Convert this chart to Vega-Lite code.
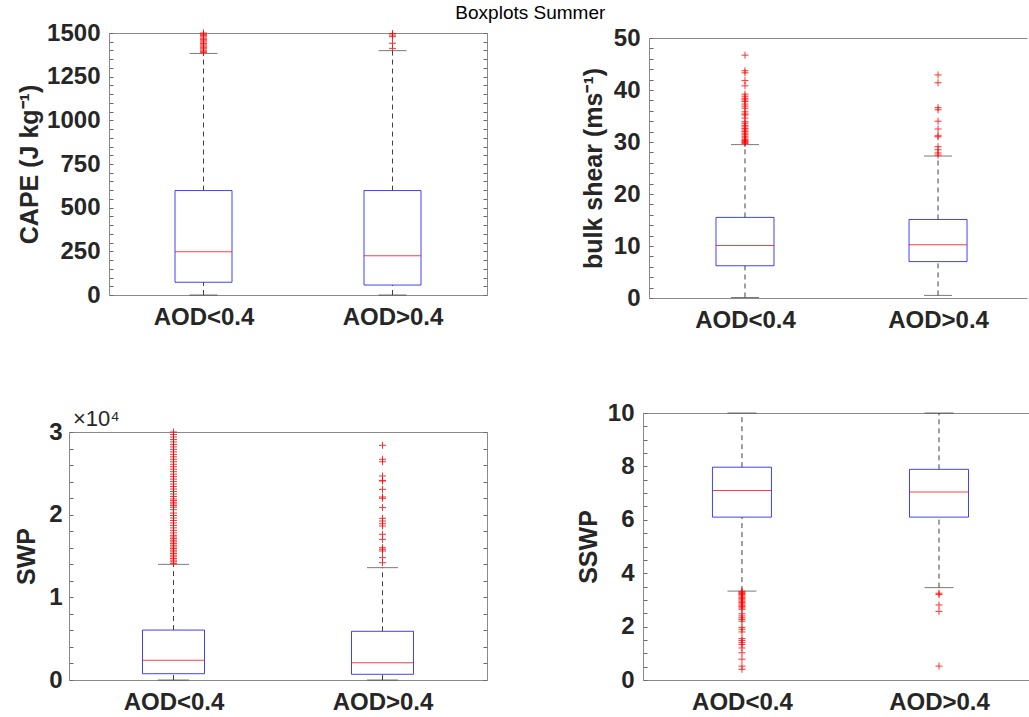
{
  "$schema": "https://vega.github.io/schema/vega-lite/v6.json",
  "padding": {"left": 14, "top": 4, "right": 0, "bottom": 0},
  "autosize": {"type": "pad"},
  "title": {"text": "Boxplots Summer", "fontSize": 19, "fontWeight": "normal", "font": "Liberation Sans", "color": "#000000", "anchor": "middle", "offset": -2, "dx": 8},
  "datasets": {
    "stats": [
      {"panel": "CAPE", "group": "AOD<0.4", "lower": 0, "q1": 73, "median": 248, "q3": 598, "upper": 1383},
      {"panel": "CAPE", "group": "AOD>0.4", "lower": 0, "q1": 57, "median": 225, "q3": 598, "upper": 1399},
      {"panel": "SHEAR", "group": "AOD<0.4", "lower": 0.1, "q1": 6.2, "median": 10.1, "q3": 15.5, "upper": 29.5},
      {"panel": "SHEAR", "group": "AOD>0.4", "lower": 0.5, "q1": 7.0, "median": 10.25, "q3": 15.1, "upper": 27.3},
      {"panel": "SWP", "group": "AOD<0.4", "lower": 0, "q1": 760, "median": 2380, "q3": 6040, "upper": 13990},
      {"panel": "SWP", "group": "AOD>0.4", "lower": 0, "q1": 690, "median": 2100, "q3": 5890, "upper": 13590},
      {"panel": "SSWP", "group": "AOD<0.4", "lower": 3.33, "q1": 6.1, "median": 7.1, "q3": 7.97, "upper": 10},
      {"panel": "SSWP", "group": "AOD>0.4", "lower": 3.46, "q1": 6.1, "median": 7.04, "q3": 7.89, "upper": 10}
    ],
    "outliers": [
      {"panel": "CAPE", "group": "AOD<0.4", "value": 1388}, {"panel": "CAPE", "group": "AOD<0.4", "value": 1395}, {"panel": "CAPE", "group": "AOD<0.4", "value": 1402}, {"panel": "CAPE", "group": "AOD<0.4", "value": 1410}, {"panel": "CAPE", "group": "AOD<0.4", "value": 1418}, {"panel": "CAPE", "group": "AOD<0.4", "value": 1425}, {"panel": "CAPE", "group": "AOD<0.4", "value": 1432}, {"panel": "CAPE", "group": "AOD<0.4", "value": 1440}, {"panel": "CAPE", "group": "AOD<0.4", "value": 1448}, {"panel": "CAPE", "group": "AOD<0.4", "value": 1455}, {"panel": "CAPE", "group": "AOD<0.4", "value": 1462}, {"panel": "CAPE", "group": "AOD<0.4", "value": 1470}, {"panel": "CAPE", "group": "AOD<0.4", "value": 1478}, {"panel": "CAPE", "group": "AOD<0.4", "value": 1485}, {"panel": "CAPE", "group": "AOD<0.4", "value": 1492}, {"panel": "CAPE", "group": "AOD<0.4", "value": 1500},
      {"panel": "CAPE", "group": "AOD>0.4", "value": 1412}, {"panel": "CAPE", "group": "AOD>0.4", "value": 1441}, {"panel": "CAPE", "group": "AOD>0.4", "value": 1479}, {"panel": "CAPE", "group": "AOD>0.4", "value": 1488}, {"panel": "CAPE", "group": "AOD>0.4", "value": 1497},
      {"panel": "SHEAR", "group": "AOD<0.4", "value": 46.7}, {"panel": "SHEAR", "group": "AOD<0.4", "value": 43.7}, {"panel": "SHEAR", "group": "AOD<0.4", "value": 43.3}, {"panel": "SHEAR", "group": "AOD<0.4", "value": 41.8}, {"panel": "SHEAR", "group": "AOD<0.4", "value": 40.8}, {"panel": "SHEAR", "group": "AOD<0.4", "value": 39.2}, {"panel": "SHEAR", "group": "AOD<0.4", "value": 38.8}, {"panel": "SHEAR", "group": "AOD<0.4", "value": 38.4}, {"panel": "SHEAR", "group": "AOD<0.4", "value": 38.1}, {"panel": "SHEAR", "group": "AOD<0.4", "value": 37.8}, {"panel": "SHEAR", "group": "AOD<0.4", "value": 37.3}, {"panel": "SHEAR", "group": "AOD<0.4", "value": 36.9}, {"panel": "SHEAR", "group": "AOD<0.4", "value": 36.5}, {"panel": "SHEAR", "group": "AOD<0.4", "value": 35.8}, {"panel": "SHEAR", "group": "AOD<0.4", "value": 35.4}, {"panel": "SHEAR", "group": "AOD<0.4", "value": 35.2}, {"panel": "SHEAR", "group": "AOD<0.4", "value": 34.6}, {"panel": "SHEAR", "group": "AOD<0.4", "value": 33.9}, {"panel": "SHEAR", "group": "AOD<0.4", "value": 33.6}, {"panel": "SHEAR", "group": "AOD<0.4", "value": 33.2}, {"panel": "SHEAR", "group": "AOD<0.4", "value": 32.9}, {"panel": "SHEAR", "group": "AOD<0.4", "value": 32.6}, {"panel": "SHEAR", "group": "AOD<0.4", "value": 32.3}, {"panel": "SHEAR", "group": "AOD<0.4", "value": 32.0}, {"panel": "SHEAR", "group": "AOD<0.4", "value": 31.7}, {"panel": "SHEAR", "group": "AOD<0.4", "value": 31.4}, {"panel": "SHEAR", "group": "AOD<0.4", "value": 31.1}, {"panel": "SHEAR", "group": "AOD<0.4", "value": 30.8}, {"panel": "SHEAR", "group": "AOD<0.4", "value": 30.5}, {"panel": "SHEAR", "group": "AOD<0.4", "value": 30.3}, {"panel": "SHEAR", "group": "AOD<0.4", "value": 30.1}, {"panel": "SHEAR", "group": "AOD<0.4", "value": 29.9}, {"panel": "SHEAR", "group": "AOD<0.4", "value": 29.7},
      {"panel": "SHEAR", "group": "AOD>0.4", "value": 42.9}, {"panel": "SHEAR", "group": "AOD>0.4", "value": 41.4}, {"panel": "SHEAR", "group": "AOD>0.4", "value": 36.6}, {"panel": "SHEAR", "group": "AOD>0.4", "value": 36.2}, {"panel": "SHEAR", "group": "AOD>0.4", "value": 34.0}, {"panel": "SHEAR", "group": "AOD>0.4", "value": 32.5}, {"panel": "SHEAR", "group": "AOD>0.4", "value": 31.2}, {"panel": "SHEAR", "group": "AOD>0.4", "value": 31.0}, {"panel": "SHEAR", "group": "AOD>0.4", "value": 29.1}, {"panel": "SHEAR", "group": "AOD>0.4", "value": 28.5}, {"panel": "SHEAR", "group": "AOD>0.4", "value": 27.9}, {"panel": "SHEAR", "group": "AOD>0.4", "value": 27.5},
      {"panel": "SWP", "group": "AOD<0.4", "value": 14100}, {"panel": "SWP", "group": "AOD<0.4", "value": 14300}, {"panel": "SWP", "group": "AOD<0.4", "value": 14500}, {"panel": "SWP", "group": "AOD<0.4", "value": 14700}, {"panel": "SWP", "group": "AOD<0.4", "value": 14900}, {"panel": "SWP", "group": "AOD<0.4", "value": 15100}, {"panel": "SWP", "group": "AOD<0.4", "value": 15300}, {"panel": "SWP", "group": "AOD<0.4", "value": 15500}, {"panel": "SWP", "group": "AOD<0.4", "value": 15700}, {"panel": "SWP", "group": "AOD<0.4", "value": 15900}, {"panel": "SWP", "group": "AOD<0.4", "value": 16100}, {"panel": "SWP", "group": "AOD<0.4", "value": 16300}, {"panel": "SWP", "group": "AOD<0.4", "value": 16500}, {"panel": "SWP", "group": "AOD<0.4", "value": 16700}, {"panel": "SWP", "group": "AOD<0.4", "value": 16900}, {"panel": "SWP", "group": "AOD<0.4", "value": 17100}, {"panel": "SWP", "group": "AOD<0.4", "value": 17300}, {"panel": "SWP", "group": "AOD<0.4", "value": 17500}, {"panel": "SWP", "group": "AOD<0.4", "value": 17800}, {"panel": "SWP", "group": "AOD<0.4", "value": 18100}, {"panel": "SWP", "group": "AOD<0.4", "value": 18400}, {"panel": "SWP", "group": "AOD<0.4", "value": 18700}, {"panel": "SWP", "group": "AOD<0.4", "value": 19000}, {"panel": "SWP", "group": "AOD<0.4", "value": 19300}, {"panel": "SWP", "group": "AOD<0.4", "value": 19600}, {"panel": "SWP", "group": "AOD<0.4", "value": 19900}, {"panel": "SWP", "group": "AOD<0.4", "value": 20200}, {"panel": "SWP", "group": "AOD<0.4", "value": 20600}, {"panel": "SWP", "group": "AOD<0.4", "value": 20900}, {"panel": "SWP", "group": "AOD<0.4", "value": 21100}, {"panel": "SWP", "group": "AOD<0.4", "value": 21300}, {"panel": "SWP", "group": "AOD<0.4", "value": 21500}, {"panel": "SWP", "group": "AOD<0.4", "value": 21700}, {"panel": "SWP", "group": "AOD<0.4", "value": 21900}, {"panel": "SWP", "group": "AOD<0.4", "value": 22200}, {"panel": "SWP", "group": "AOD<0.4", "value": 22500}, {"panel": "SWP", "group": "AOD<0.4", "value": 22800}, {"panel": "SWP", "group": "AOD<0.4", "value": 23100}, {"panel": "SWP", "group": "AOD<0.4", "value": 23400}, {"panel": "SWP", "group": "AOD<0.4", "value": 23700}, {"panel": "SWP", "group": "AOD<0.4", "value": 24000}, {"panel": "SWP", "group": "AOD<0.4", "value": 24300}, {"panel": "SWP", "group": "AOD<0.4", "value": 24600}, {"panel": "SWP", "group": "AOD<0.4", "value": 24900}, {"panel": "SWP", "group": "AOD<0.4", "value": 25200}, {"panel": "SWP", "group": "AOD<0.4", "value": 25500}, {"panel": "SWP", "group": "AOD<0.4", "value": 25800}, {"panel": "SWP", "group": "AOD<0.4", "value": 26100}, {"panel": "SWP", "group": "AOD<0.4", "value": 26400}, {"panel": "SWP", "group": "AOD<0.4", "value": 26700}, {"panel": "SWP", "group": "AOD<0.4", "value": 27000}, {"panel": "SWP", "group": "AOD<0.4", "value": 27300}, {"panel": "SWP", "group": "AOD<0.4", "value": 27600}, {"panel": "SWP", "group": "AOD<0.4", "value": 27900}, {"panel": "SWP", "group": "AOD<0.4", "value": 28200}, {"panel": "SWP", "group": "AOD<0.4", "value": 28500}, {"panel": "SWP", "group": "AOD<0.4", "value": 28800}, {"panel": "SWP", "group": "AOD<0.4", "value": 29100}, {"panel": "SWP", "group": "AOD<0.4", "value": 29400}, {"panel": "SWP", "group": "AOD<0.4", "value": 29700}, {"panel": "SWP", "group": "AOD<0.4", "value": 30000},
      {"panel": "SWP", "group": "AOD>0.4", "value": 28390}, {"panel": "SWP", "group": "AOD>0.4", "value": 26700}, {"panel": "SWP", "group": "AOD>0.4", "value": 26400}, {"panel": "SWP", "group": "AOD>0.4", "value": 24680}, {"panel": "SWP", "group": "AOD>0.4", "value": 24150}, {"panel": "SWP", "group": "AOD>0.4", "value": 24070}, {"panel": "SWP", "group": "AOD>0.4", "value": 23060}, {"panel": "SWP", "group": "AOD>0.4", "value": 22140}, {"panel": "SWP", "group": "AOD>0.4", "value": 21980}, {"panel": "SWP", "group": "AOD>0.4", "value": 20850}, {"panel": "SWP", "group": "AOD>0.4", "value": 19560}, {"panel": "SWP", "group": "AOD>0.4", "value": 19230}, {"panel": "SWP", "group": "AOD>0.4", "value": 18910}, {"panel": "SWP", "group": "AOD>0.4", "value": 18630}, {"panel": "SWP", "group": "AOD>0.4", "value": 17620}, {"panel": "SWP", "group": "AOD>0.4", "value": 17010}, {"panel": "SWP", "group": "AOD>0.4", "value": 16000}, {"panel": "SWP", "group": "AOD>0.4", "value": 15810}, {"panel": "SWP", "group": "AOD>0.4", "value": 15600}, {"panel": "SWP", "group": "AOD>0.4", "value": 14800}, {"panel": "SWP", "group": "AOD>0.4", "value": 14190},
      {"panel": "SSWP", "group": "AOD<0.4", "value": 3.32}, {"panel": "SSWP", "group": "AOD<0.4", "value": 3.28}, {"panel": "SSWP", "group": "AOD<0.4", "value": 3.24}, {"panel": "SSWP", "group": "AOD<0.4", "value": 3.2}, {"panel": "SSWP", "group": "AOD<0.4", "value": 3.15}, {"panel": "SSWP", "group": "AOD<0.4", "value": 3.1}, {"panel": "SSWP", "group": "AOD<0.4", "value": 3.05}, {"panel": "SSWP", "group": "AOD<0.4", "value": 3.0}, {"panel": "SSWP", "group": "AOD<0.4", "value": 2.95}, {"panel": "SSWP", "group": "AOD<0.4", "value": 2.9}, {"panel": "SSWP", "group": "AOD<0.4", "value": 2.85}, {"panel": "SSWP", "group": "AOD<0.4", "value": 2.8}, {"panel": "SSWP", "group": "AOD<0.4", "value": 2.75}, {"panel": "SSWP", "group": "AOD<0.4", "value": 2.7}, {"panel": "SSWP", "group": "AOD<0.4", "value": 2.65}, {"panel": "SSWP", "group": "AOD<0.4", "value": 2.48}, {"panel": "SSWP", "group": "AOD<0.4", "value": 2.4}, {"panel": "SSWP", "group": "AOD<0.4", "value": 2.33}, {"panel": "SSWP", "group": "AOD<0.4", "value": 2.27}, {"panel": "SSWP", "group": "AOD<0.4", "value": 2.2}, {"panel": "SSWP", "group": "AOD<0.4", "value": 1.97}, {"panel": "SSWP", "group": "AOD<0.4", "value": 1.9}, {"panel": "SSWP", "group": "AOD<0.4", "value": 1.8}, {"panel": "SSWP", "group": "AOD<0.4", "value": 1.55}, {"panel": "SSWP", "group": "AOD<0.4", "value": 1.48}, {"panel": "SSWP", "group": "AOD<0.4", "value": 1.4}, {"panel": "SSWP", "group": "AOD<0.4", "value": 1.33}, {"panel": "SSWP", "group": "AOD<0.4", "value": 1.2}, {"panel": "SSWP", "group": "AOD<0.4", "value": 1.02}, {"panel": "SSWP", "group": "AOD<0.4", "value": 0.78}, {"panel": "SSWP", "group": "AOD<0.4", "value": 0.52}, {"panel": "SSWP", "group": "AOD<0.4", "value": 0.4},
      {"panel": "SSWP", "group": "AOD>0.4", "value": 3.25}, {"panel": "SSWP", "group": "AOD>0.4", "value": 3.2}, {"panel": "SSWP", "group": "AOD>0.4", "value": 2.81}, {"panel": "SSWP", "group": "AOD>0.4", "value": 2.57}, {"panel": "SSWP", "group": "AOD>0.4", "value": 0.52}
    ]
  },
  "spacing": 68,
  "vconcat": [
    {
      "spacing": 93,
      "hconcat": [
        {
          "width": 418, "height": 262,
          "resolve": {"axis": {"x": "independent", "y": "independent"}},
          "layer": [
            {"data": {"name": "stats"}, "transform": [{"filter": "datum.panel === 'CAPE'"}],
             "mark": {"type": "bar", "size": 57, "fillOpacity": 0, "stroke": "#0000ff", "strokeOpacity": 0.75, "strokeWidth": 1},
             "encoding": {
               "x": {"field": "group", "type": "nominal", "scale": {"type": "point", "domain": ["AOD<0.4", "AOD>0.4"], "padding": 0.5, "align": 0.5, "range": [40, 418]}, "axis": {"orient": "bottom", "title": null, "ticks": false, "domain": true, "labelAngle": 0, "labelPadding": 10.5}},
               "y": {"field": "q1", "type": "quantitative", "scale": {"domain": [0, 1500], "nice": false, "zero": false}, "axis": {"orient": "left", "offset": -40, "title": "CAPE (J kg⁻¹)", "values": [0,50,100,150,200,250,300,350,400,450,500,550,600,650,700,750,800,850,900,950,1000,1050,1100,1150,1200,1250,1300,1350,1400,1450,1500], "labelExpr": "datum.value % 250 === 0 ? format(datum.value, 'd') : ''", "tickSize": -4, "labelPadding": 13, "titlePadding": 4, "domain": true}},
               "y2": {"field": "q3"}
             }},
            {"data": {"name": "stats"}, "transform": [{"filter": "datum.panel === 'CAPE'"}],
             "mark": {"type": "tick", "orient": "horizontal", "size": 57, "thickness": 1, "color": "#ff0000", "opacity": 0.75},
             "encoding": {
               "x": {"field": "group", "type": "nominal", "axis": {"orient": "top", "title": null, "labels": false, "ticks": false, "domain": true}},
               "y": {"field": "median", "type": "quantitative", "axis": {"orient": "right", "title": null, "labels": false, "values": [0,50,100,150,200,250,300,350,400,450,500,550,600,650,700,750,800,850,900,950,1000,1050,1100,1150,1200,1250,1300,1350,1400,1450,1500], "tickSize": -4, "domain": true}}
             }},
            {"data": {"name": "stats"}, "transform": [{"filter": "datum.panel === 'CAPE'"}],
             "mark": {"type": "rule", "strokeDash": [5, 4], "color": "#404040", "strokeWidth": 1},
             "encoding": {"x": {"field": "group", "type": "nominal", "axis": null}, "y": {"field": "lower", "type": "quantitative", "axis": null}, "y2": {"field": "q1"}}},
            {"data": {"name": "stats"}, "transform": [{"filter": "datum.panel === 'CAPE'"}],
             "mark": {"type": "rule", "strokeDash": [5, 4], "color": "#404040", "strokeWidth": 1},
             "encoding": {"x": {"field": "group", "type": "nominal", "axis": null}, "y": {"field": "q3", "type": "quantitative", "axis": null}, "y2": {"field": "upper"}}},
            {"data": {"name": "stats"}, "transform": [{"filter": "datum.panel === 'CAPE'"}],
             "mark": {"type": "tick", "orient": "horizontal", "size": 28, "thickness": 1, "color": "#404040"},
             "encoding": {"x": {"field": "group", "type": "nominal", "axis": null}, "y": {"field": "lower", "type": "quantitative", "axis": null}}},
            {"data": {"name": "stats"}, "transform": [{"filter": "datum.panel === 'CAPE'"}],
             "mark": {"type": "tick", "orient": "horizontal", "size": 28, "thickness": 1, "color": "#404040"},
             "encoding": {"x": {"field": "group", "type": "nominal", "axis": null}, "y": {"field": "upper", "type": "quantitative", "axis": null}}},
            {"data": {"name": "outliers"}, "transform": [{"filter": "datum.panel === 'CAPE'"}],
             "mark": {"type": "point", "shape": "M-1,0L1,0M0,-1L0,1", "size": 49, "filled": false, "stroke": "#ff0000", "strokeWidth": 1, "opacity": 0.8},
             "encoding": {"x": {"field": "group", "type": "nominal", "axis": null}, "y": {"field": "value", "type": "quantitative", "axis": null}}}
          ]
        },
        {
          "width": 378, "height": 265,
          "resolve": {"axis": {"x": "independent", "y": "independent"}},
          "layer": [
            {"data": {"name": "stats"}, "transform": [{"filter": "datum.panel === 'SHEAR'"}],
             "mark": {"type": "bar", "size": 58, "fillOpacity": 0, "stroke": "#0000ff", "strokeOpacity": 0.75, "strokeWidth": 1},
             "encoding": {
               "x": {"field": "group", "type": "nominal", "scale": {"type": "point", "domain": ["AOD<0.4", "AOD>0.4"], "padding": 0.479, "align": 0.519}, "axis": {"orient": "bottom", "title": null, "ticks": false, "domain": true, "labelAngle": 0, "labelPadding": 10.5}},
               "y": {"field": "q1", "type": "quantitative", "scale": {"domain": [0, 50], "nice": false, "zero": false, "range": [265, 5]}, "axis": {"orient": "left", "title": "bulk shear (ms⁻¹)", "values": [0,2,4,6,8,10,12,14,16,18,20,22,24,26,28,30,32,34,36,38,40,42,44,46,48,50], "labelExpr": "datum.value % 10 === 0 ? format(datum.value, 'd') : ''", "tickSize": -4, "labelPadding": 13, "titlePadding": 7, "domain": true}},
               "y2": {"field": "q3"}
             }},
            {"data": {"name": "stats"}, "transform": [{"filter": "datum.panel === 'SHEAR'"}],
             "mark": {"type": "tick", "orient": "horizontal", "size": 58, "thickness": 1, "color": "#ff0000", "opacity": 0.75},
             "encoding": {
               "x": {"field": "group", "type": "nominal", "axis": {"orient": "top", "offset": -5, "title": null, "labels": false, "ticks": false, "domain": true}},
               "y": {"field": "median", "type": "quantitative", "axis": null}
             }},
            {"data": {"name": "stats"}, "transform": [{"filter": "datum.panel === 'SHEAR'"}],
             "mark": {"type": "rule", "strokeDash": [5, 4], "color": "#404040", "strokeWidth": 1},
             "encoding": {"x": {"field": "group", "type": "nominal", "axis": null}, "y": {"field": "lower", "type": "quantitative", "axis": null}, "y2": {"field": "q1"}}},
            {"data": {"name": "stats"}, "transform": [{"filter": "datum.panel === 'SHEAR'"}],
             "mark": {"type": "rule", "strokeDash": [5, 4], "color": "#404040", "strokeWidth": 1},
             "encoding": {"x": {"field": "group", "type": "nominal", "axis": null}, "y": {"field": "q3", "type": "quantitative", "axis": null}, "y2": {"field": "upper"}}},
            {"data": {"name": "stats"}, "transform": [{"filter": "datum.panel === 'SHEAR'"}],
             "mark": {"type": "tick", "orient": "horizontal", "size": 28, "thickness": 1, "color": "#404040"},
             "encoding": {"x": {"field": "group", "type": "nominal", "axis": null}, "y": {"field": "lower", "type": "quantitative", "axis": null}}},
            {"data": {"name": "stats"}, "transform": [{"filter": "datum.panel === 'SHEAR'"}],
             "mark": {"type": "tick", "orient": "horizontal", "size": 28, "thickness": 1, "color": "#404040"},
             "encoding": {"x": {"field": "group", "type": "nominal", "axis": null}, "y": {"field": "upper", "type": "quantitative", "axis": null}}},
            {"data": {"name": "outliers"}, "transform": [{"filter": "datum.panel === 'SHEAR'"}],
             "mark": {"type": "point", "shape": "M-1,0L1,0M0,-1L0,1", "size": 49, "filled": false, "stroke": "#ff0000", "strokeWidth": 1, "opacity": 0.8},
             "encoding": {"x": {"field": "group", "type": "nominal", "axis": null}, "y": {"field": "value", "type": "quantitative", "axis": null}}}
          ]
        }
      ]
    },
    {
      "spacing": 88,
      "hconcat": [
        {
          "width": 418, "height": 267,
          "title": {"text": "×10⁴", "anchor": "start", "frame": "group", "fontSize": 22, "fontWeight": "normal", "font": "Liberation Sans", "color": "#262626", "offset": -17.5, "dx": 4},
          "resolve": {"axis": {"x": "independent", "y": "independent"}},
          "layer": [
            {"data": {"name": "stats"}, "transform": [{"filter": "datum.panel === 'SWP'"}],
             "mark": {"type": "bar", "size": 62, "fillOpacity": 0, "stroke": "#0000ff", "strokeOpacity": 0.75, "strokeWidth": 1},
             "encoding": {
               "x": {"field": "group", "type": "nominal", "scale": {"type": "point", "domain": ["AOD<0.4", "AOD>0.4"], "padding": 0.5, "align": 0.5}, "axis": {"orient": "bottom", "title": null, "ticks": false, "domain": true, "labelAngle": 0, "labelPadding": 10}},
               "y": {"field": "q1", "type": "quantitative", "scale": {"domain": [0, 30000], "nice": false, "zero": false, "range": [267, 19]}, "axis": {"orient": "left", "title": "SWP", "values": [0,2000,4000,6000,8000,10000,12000,14000,16000,18000,20000,22000,24000,26000,28000,30000], "labelExpr": "datum.value % 10000 === 0 ? format(datum.value / 10000, 'd') : ''", "tickSize": -4, "labelPadding": 11, "titlePadding": 9, "domain": true}},
               "y2": {"field": "q3"}
             }},
            {"data": {"name": "stats"}, "transform": [{"filter": "datum.panel === 'SWP'"}],
             "mark": {"type": "tick", "orient": "horizontal", "size": 62, "thickness": 1, "color": "#ff0000", "opacity": 0.75},
             "encoding": {
               "x": {"field": "group", "type": "nominal", "axis": {"orient": "top", "offset": -19, "title": null, "labels": false, "ticks": false, "domain": true}},
               "y": {"field": "median", "type": "quantitative", "axis": {"orient": "right", "title": null, "labels": false, "values": [0,2000,4000,6000,8000,10000,12000,14000,16000,18000,20000,22000,24000,26000,28000,30000], "tickSize": -4, "domain": true}}
             }},
            {"data": {"name": "stats"}, "transform": [{"filter": "datum.panel === 'SWP'"}],
             "mark": {"type": "rule", "strokeDash": [5, 4], "color": "#404040", "strokeWidth": 1},
             "encoding": {"x": {"field": "group", "type": "nominal", "axis": null}, "y": {"field": "lower", "type": "quantitative", "axis": null}, "y2": {"field": "q1"}}},
            {"data": {"name": "stats"}, "transform": [{"filter": "datum.panel === 'SWP'"}],
             "mark": {"type": "rule", "strokeDash": [5, 4], "color": "#404040", "strokeWidth": 1},
             "encoding": {"x": {"field": "group", "type": "nominal", "axis": null}, "y": {"field": "q3", "type": "quantitative", "axis": null}, "y2": {"field": "upper"}}},
            {"data": {"name": "stats"}, "transform": [{"filter": "datum.panel === 'SWP'"}],
             "mark": {"type": "tick", "orient": "horizontal", "size": 31, "thickness": 1, "color": "#404040"},
             "encoding": {"x": {"field": "group", "type": "nominal", "axis": null}, "y": {"field": "lower", "type": "quantitative", "axis": null}}},
            {"data": {"name": "stats"}, "transform": [{"filter": "datum.panel === 'SWP'"}],
             "mark": {"type": "tick", "orient": "horizontal", "size": 31, "thickness": 1, "color": "#404040"},
             "encoding": {"x": {"field": "group", "type": "nominal", "axis": null}, "y": {"field": "upper", "type": "quantitative", "axis": null}}},
            {"data": {"name": "outliers"}, "transform": [{"filter": "datum.panel === 'SWP'"}],
             "mark": {"type": "point", "shape": "M-1,0L1,0M0,-1L0,1", "size": 49, "filled": false, "stroke": "#ff0000", "strokeWidth": 1, "opacity": 0.8},
             "encoding": {"x": {"field": "group", "type": "nominal", "axis": null}, "y": {"field": "value", "type": "quantitative", "axis": null}}}
          ]
        },
        {
          "width": 387, "height": 267,
          "resolve": {"axis": {"x": "independent", "y": "independent"}},
          "layer": [
            {"data": {"name": "stats"}, "transform": [{"filter": "datum.panel === 'SSWP'"}],
             "mark": {"type": "bar", "size": 59, "fillOpacity": 0, "stroke": "#0000ff", "strokeOpacity": 0.75, "strokeWidth": 1},
             "encoding": {
               "x": {"field": "group", "type": "nominal", "scale": {"type": "point", "domain": ["AOD<0.4", "AOD>0.4"], "padding": 0.482, "align": 0.521}, "axis": {"orient": "bottom", "title": null, "ticks": false, "domain": true, "labelAngle": 0, "labelPadding": 10}},
               "y": {"field": "q1", "type": "quantitative", "scale": {"domain": [0, 10], "nice": false, "zero": false}, "axis": {"orient": "left", "title": "SSWP", "values": [0,0.5,1,1.5,2,2.5,3,3.5,4,4.5,5,5.5,6,6.5,7,7.5,8,8.5,9,9.5,10], "labelExpr": "datum.value % 2 === 0 ? format(datum.value, 'd') : ''", "tickSize": -4, "labelPadding": 13, "titlePadding": 6, "domain": true}},
               "y2": {"field": "q3"}
             }},
            {"data": {"name": "stats"}, "transform": [{"filter": "datum.panel === 'SSWP'"}],
             "mark": {"type": "tick", "orient": "horizontal", "size": 59, "thickness": 1, "color": "#ff0000", "opacity": 0.75},
             "encoding": {
               "x": {"field": "group", "type": "nominal", "axis": {"orient": "top", "title": null, "labels": false, "ticks": false, "domain": true}},
               "y": {"field": "median", "type": "quantitative", "axis": null}
             }},
            {"data": {"name": "stats"}, "transform": [{"filter": "datum.panel === 'SSWP'"}],
             "mark": {"type": "rule", "strokeDash": [5, 4], "color": "#404040", "strokeWidth": 1},
             "encoding": {"x": {"field": "group", "type": "nominal", "axis": null}, "y": {"field": "lower", "type": "quantitative", "axis": null}, "y2": {"field": "q1"}}},
            {"data": {"name": "stats"}, "transform": [{"filter": "datum.panel === 'SSWP'"}],
             "mark": {"type": "rule", "strokeDash": [5, 4], "color": "#404040", "strokeWidth": 1},
             "encoding": {"x": {"field": "group", "type": "nominal", "axis": null}, "y": {"field": "q3", "type": "quantitative", "axis": null}, "y2": {"field": "upper"}}},
            {"data": {"name": "stats"}, "transform": [{"filter": "datum.panel === 'SSWP'"}],
             "mark": {"type": "tick", "orient": "horizontal", "size": 29, "thickness": 1, "color": "#404040"},
             "encoding": {"x": {"field": "group", "type": "nominal", "axis": null}, "y": {"field": "lower", "type": "quantitative", "axis": null}}},
            {"data": {"name": "stats"}, "transform": [{"filter": "datum.panel === 'SSWP'"}],
             "mark": {"type": "tick", "orient": "horizontal", "size": 29, "thickness": 1, "color": "#404040"},
             "encoding": {"x": {"field": "group", "type": "nominal", "axis": null}, "y": {"field": "upper", "type": "quantitative", "axis": null}}},
            {"data": {"name": "outliers"}, "transform": [{"filter": "datum.panel === 'SSWP'"}],
             "mark": {"type": "point", "shape": "M-1,0L1,0M0,-1L0,1", "size": 49, "filled": false, "stroke": "#ff0000", "strokeWidth": 1, "opacity": 0.8},
             "encoding": {"x": {"field": "group", "type": "nominal", "axis": null}, "y": {"field": "value", "type": "quantitative", "axis": null}}}
          ]
        }
      ]
    }
  ],
  "config": {
    "font": "Liberation Sans",
    "view": {"stroke": null},
    "axis": {
      "grid": false,
      "labelFont": "Liberation Sans", "labelFontSize": 24, "labelFontWeight": "bold", "labelColor": "#262626",
      "titleFont": "Liberation Sans", "titleFontSize": 25, "titleFontWeight": "bold", "titleColor": "#262626",
      "domainColor": "#8a8a8a", "domainWidth": 1, "tickColor": "#6a6a6a", "tickWidth": 1
    }
  }
}
